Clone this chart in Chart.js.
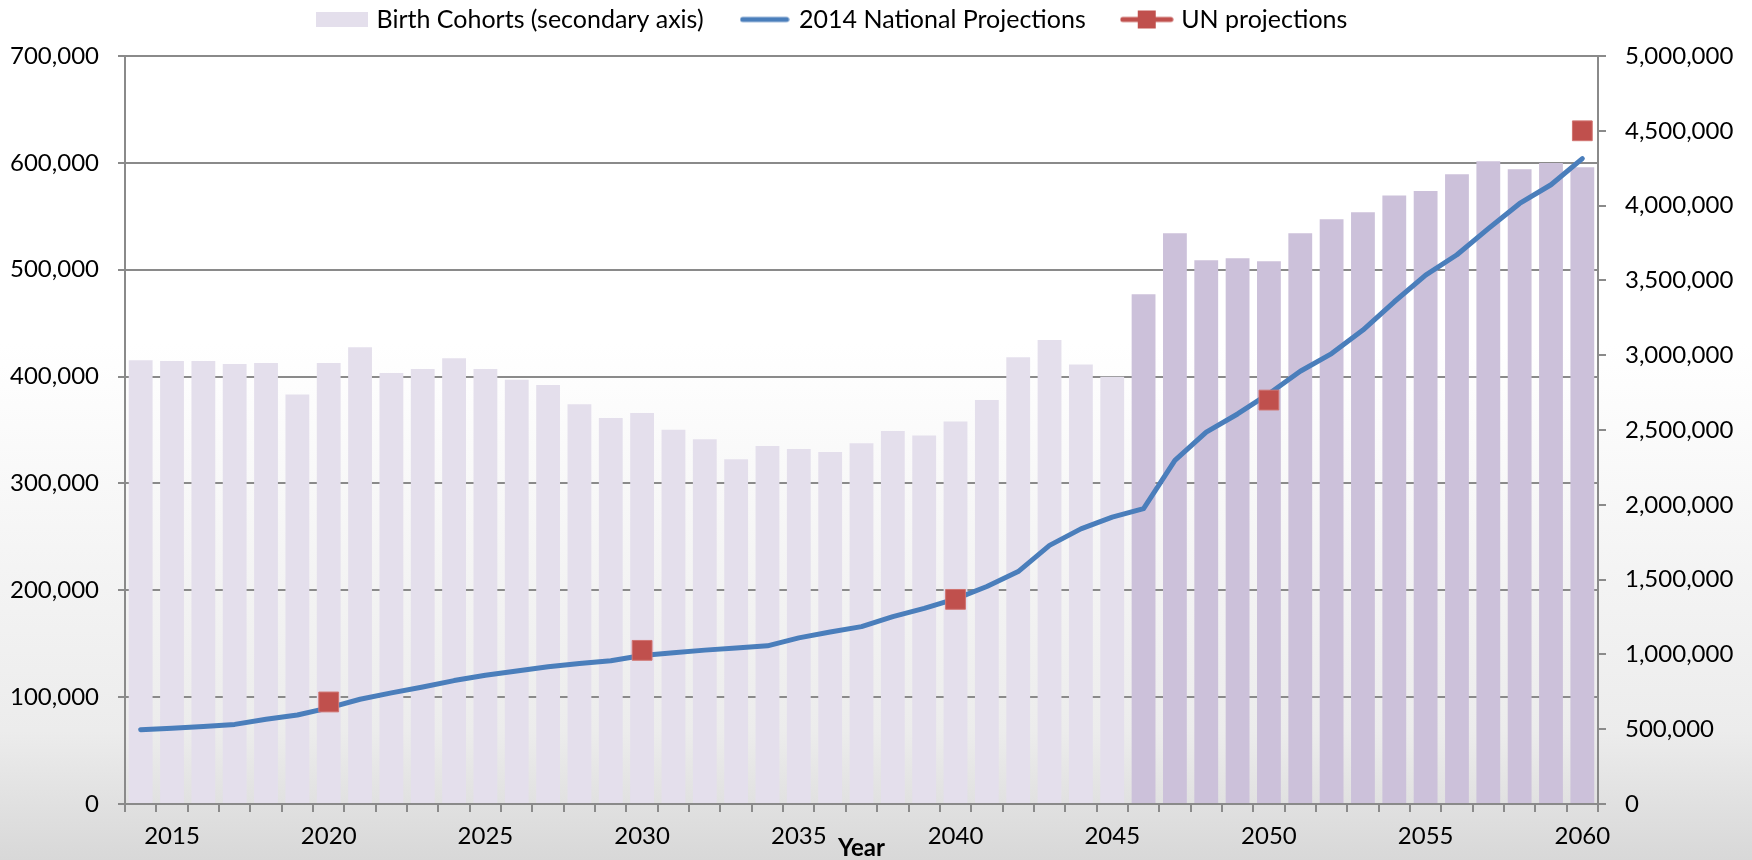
<!DOCTYPE html>
<html>
<head>
<meta charset="utf-8">
<title>Birth cohorts and population projections</title>
<script src="https://cdn.jsdelivr.net/npm/chart.js@4.4.1/dist/chart.umd.min.js"></script>
<style>
  html, body { margin: 0; padding: 0; background: #fff; }
  #wrap { width: 1752px; height: 860px; }
</style>
</head>
<body>
<div id="wrap"><canvas id="chart" width="1752" height="860"></canvas></div>
<script>
// --- data ---
const years = [
  2014, 2015, 2016, 2017, 2018, 2019, 2020, 2021, 2022, 2023, 2024, 2025,
  2026, 2027, 2028, 2029, 2030, 2031, 2032, 2033, 2034, 2035, 2036, 2037,
  2038, 2039, 2040, 2041, 2042, 2043, 2044, 2045, 2046, 2047, 2048, 2049,
  2050, 2051, 2052, 2053, 2054, 2055, 2056, 2057, 2058, 2059, 2060
];
const labelledYears = [2015, 2020, 2025, 2030, 2035, 2040, 2045, 2050, 2055, 2060];

// birth cohorts, right axis
const birthCohorts = [
  2966000, 2961000, 2961000, 2941000, 2948000, 2738000, 2948000, 3053000, 2881000, 2908000, 2979000, 2908000,
  2836000, 2801000, 2672000, 2580000, 2614000, 2502000, 2438000, 2304000, 2393000, 2373000, 2353000, 2411000,
  2493000, 2464000, 2556000, 2701000, 2986000, 3102000, 2937000, 2856000, 3408000, 3815000, 3634000, 3648000,
  3628000, 3815000, 3908000, 3956000, 4068000, 4097000, 4209000, 4297000, 4243000, 4285000, 4257000
];

// 2014 national projections, left axis
const nationalProjection = [
  69500, 71000, 72500, 74500, 79300, 83300, 90000, 98000, 104000, 109500, 115500, 120500,
  124500, 128500, 131500, 134000, 139000, 141500, 144000, 146000, 148000, 155500, 161000, 166000,
  175300, 183000, 192000, 203500, 217500, 242000, 257500, 268500, 276500, 321500, 348000, 365000,
  384000, 405000, 421500, 443500, 470000, 495000, 514000, 538500, 562000, 579500, 604000
];

// UN projections, left axis
const unYears = [2020, 2030, 2040, 2050, 2060];
const unValues = [95500, 143800, 191500, 378000, 630000];

// --- styles ---
const BAR_LIGHT = '#e4dfec';
const BAR_DARK = '#ccc1da';
const PROJECTED_FROM = 2046;
const BLUE = '#4a7ebb';
const RED = '#c0504d';
const GRID = '#8a8a8a';
const LEGEND_LEFT = 320;
const LEGEND_ITEM_TOP = 7;

Chart.defaults.font.family = 'Lato, "Open Sans", sans-serif';
Chart.defaults.font.size = 24;
Chart.defaults.color = '#000';

const fmtNum = (v) => Number(v).toLocaleString('en-US');

function swatch(w, h, paint) {
  const c = document.createElement('canvas');
  c.width = w; c.height = h;
  paint(c.getContext('2d'), w, h);
  return c;
}
const barSwatch = swatch(52, 15, (ctx, w, h) => { ctx.fillStyle = BAR_LIGHT; ctx.fillRect(0, 0, w, h); });
const lineSwatch = swatch(50, 8, (ctx, w, h) => {
  ctx.strokeStyle = BLUE; ctx.lineWidth = 5; ctx.lineCap = 'round';
  ctx.beginPath(); ctx.moveTo(3, h / 2); ctx.lineTo(w - 3, h / 2); ctx.stroke();
});
const unSwatch = swatch(54, 20, (ctx, w, h) => {
  ctx.strokeStyle = RED; ctx.lineWidth = 5; ctx.lineCap = 'round';
  ctx.beginPath(); ctx.moveTo(3, h / 2); ctx.lineTo(w - 3, h / 2); ctx.stroke();
  ctx.fillStyle = RED; ctx.fillRect(w / 2 - 9, h / 2 - 9, 18, 18);
});

// page background: white fading to grey at the bottom
const backdrop = {
  id: 'backdrop',
  beforeDraw(chart) {
    const { ctx, width, height } = chart;
    const g = ctx.createLinearGradient(0, 0, 0, height);
    g.addColorStop(0, '#ffffff');
    g.addColorStop(0.4, '#ffffff');
    g.addColorStop(0.85, '#ececec');
    g.addColorStop(1, '#d8d8d8');
    ctx.save();
    ctx.fillStyle = g;
    ctx.fillRect(0, 0, width, height);
    ctx.restore();
  }
};

// move the legend row to where it sits in the original
const legendPlace = {
  id: 'legendPlace',
  afterLayout(chart) {
    const lg = chart.legend;
    if (!lg || !lg.lineWidths) return;
    const pad = lg.options.labels.padding;
    const startX = (lg.left + pad + lg.right - lg.lineWidths[0]) / 2;
    const dx = LEGEND_LEFT - startX;
    lg.left += dx; lg.right += dx;
    lg.top = LEGEND_ITEM_TOP - pad;
    lg.bottom = lg.top + lg.height;
  }
};

new Chart(document.getElementById('chart'), {
  data: {
    labels: years,
    datasets: [
      {
        type: 'bar', label: 'Birth Cohorts (secondary axis)', data: birthCohorts, yAxisID: 'y1',
        backgroundColor: years.map((y) => (y >= PROJECTED_FROM ? BAR_DARK : BAR_LIGHT)),
        borderWidth: 0, barPercentage: 0.76, categoryPercentage: 1, order: 3
      },
      {
        type: 'line', label: '2014 National Projections', data: nationalProjection, yAxisID: 'y',
        borderColor: BLUE, backgroundColor: BLUE, borderWidth: 5, pointRadius: 0, pointHoverRadius: 0,
        tension: 0, borderCapStyle: 'round', borderJoinStyle: 'round', order: 2
      },
      {
        type: 'line', label: 'UN projections', yAxisID: 'y',
        data: years.map((y) => (unYears.includes(y) ? unValues[unYears.indexOf(y)] : null)),
        showLine: false, pointStyle: 'rect', pointRadius: 14, pointHoverRadius: 14,
        pointBackgroundColor: RED, pointBorderColor: '#d07370', pointBorderWidth: 1, order: 1
      }
    ]
  },
  options: {
    responsive: false,
    animation: false,
    layout: { padding: { top: -18, left: 0, right: 0, bottom: 0 } },
    plugins: {
      tooltip: { enabled: false },
      legend: {
        position: 'top',
        labels: {
          usePointStyle: true, pointStyleWidth: 44, padding: 39, color: '#000',
          font: { size: 25 },
          generateLabels: () => [
            { text: 'Birth Cohorts (secondary axis)', pointStyle: barSwatch, datasetIndex: 0, fillStyle: BAR_LIGHT, strokeStyle: 'rgba(0,0,0,0)', lineWidth: 0, hidden: false },
            { text: '2014 National Projections', pointStyle: lineSwatch, datasetIndex: 1, fillStyle: BLUE, strokeStyle: 'rgba(0,0,0,0)', lineWidth: 0, hidden: false },
            { text: 'UN projections', pointStyle: unSwatch, datasetIndex: 2, fillStyle: RED, strokeStyle: 'rgba(0,0,0,0)', lineWidth: 0, hidden: false }
          ]
        }
      }
    },
    scales: {
      x: {
        offset: true,
        grid: { offset: true, drawOnChartArea: false, drawTicks: true, tickLength: 8, color: GRID, lineWidth: 2 },
        border: { display: true, color: GRID, width: 2 },
        ticks: {
          autoSkip: false, maxRotation: 0, minRotation: 0, padding: 10, color: '#000',
          callback: (v, i) => (labelledYears.includes(years[i]) ? String(years[i]) : '')
        },
        title: { display: true, text: 'Year', color: '#000', font: { size: 24, weight: 'bold' }, padding: { top: 0, bottom: -3 } },
        afterFit: (s) => { s.height = 56; }
      },
      y: {
        position: 'left', min: 0, max: 700000,
        ticks: { stepSize: 100000, padding: 19, color: '#000', callback: fmtNum },
        grid: { color: GRID, lineWidth: 2, drawTicks: true, tickLength: 7 },
        border: { display: true, color: GRID, width: 2 },
        afterFit: (s) => { s.width = 125; }
      },
      y1: {
        position: 'right', min: 0, max: 5000000,
        ticks: { stepSize: 500000, padding: 19, color: '#000', callback: fmtNum },
        grid: { drawOnChartArea: false, drawTicks: true, tickLength: 8, color: GRID, lineWidth: 2 },
        border: { display: true, color: GRID, width: 2 },
        afterFit: (s) => { s.width = 154; }
      }
    }
  },
  plugins: [backdrop, legendPlace]
});
</script>
</body>
</html>
